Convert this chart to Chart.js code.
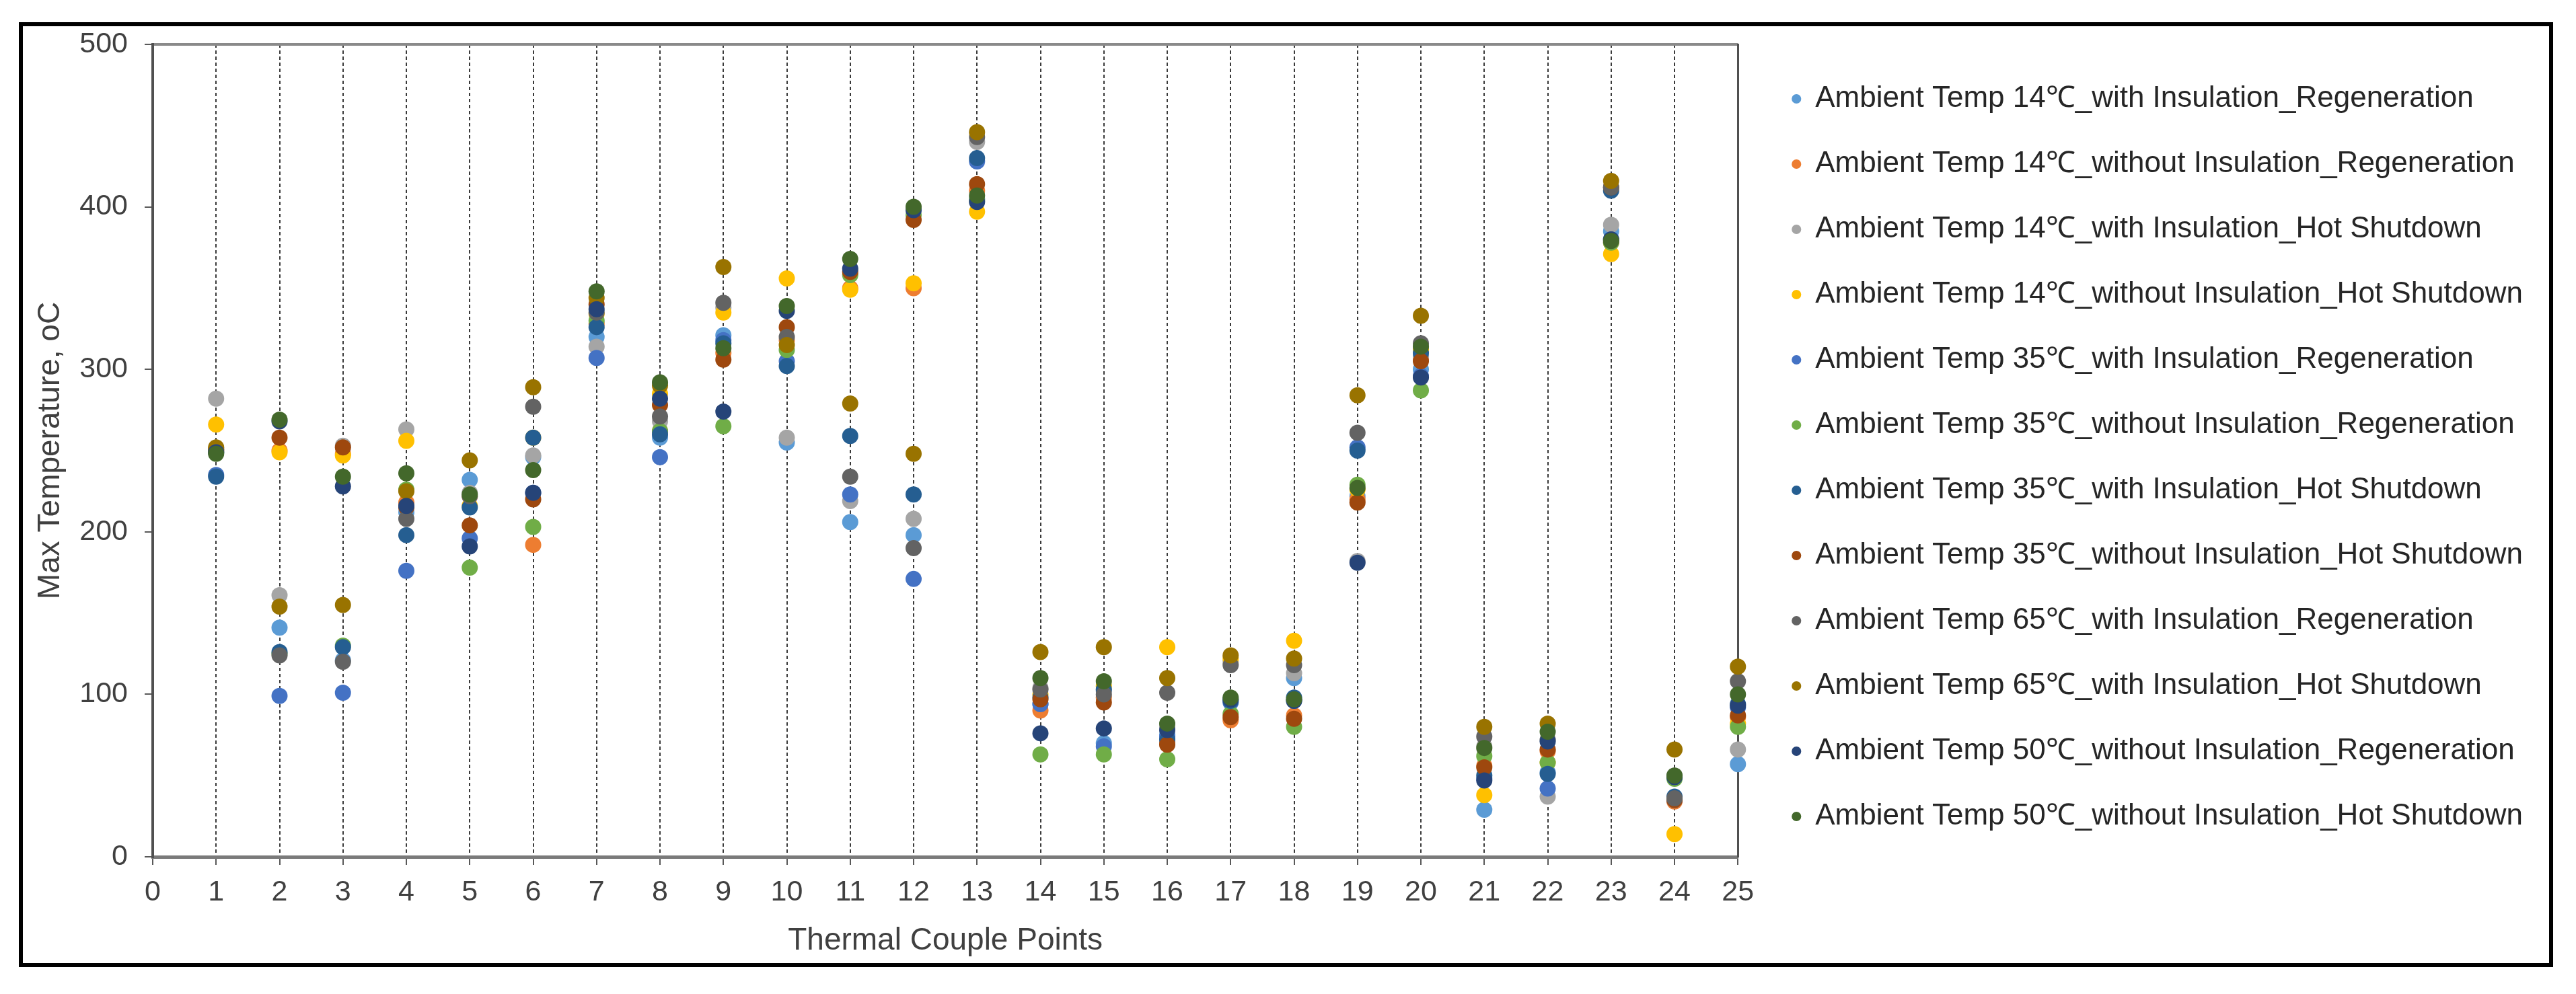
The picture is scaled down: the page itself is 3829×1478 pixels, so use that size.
<!DOCTYPE html>
<html>
<head>
<meta charset="utf-8">
<script src="https://cdn.jsdelivr.net/npm/chart.js@4.4.0/dist/chart.umd.min.js"></script>
<style>
  body { margin: 0; background: #fff; }
  #frame { position: absolute; left: 28px; top: 33px; width: 3767px; height: 1405px; border: 6px solid #000; box-sizing: border-box; }
  #myChart { position: absolute; left: 0; top: 0; }
</style>
</head>
<body>
<div id="frame"></div>
<canvas id="myChart" width="3829" height="1478"></canvas>
<script>
// thermal couple points (x) and y ticks
const points = [1,2,3,4,5,6,7,8,9,10,11,12,13,14,15,16,17,18,19,20,21,22,23,24,25];
const xTicks = [0, 25];
const yTicks = [0, 100, 200, 300, 400, 500];

const seriesNames = [
    "Ambient Temp 14\u2103_with Insulation_Regeneration",
    "Ambient Temp 14\u2103_without Insulation_Regeneration",
    "Ambient Temp 14\u2103_with Insulation_Hot Shutdown",
    "Ambient Temp 14\u2103_without Insulation_Hot Shutdown",
    "Ambient Temp 35\u2103_with Insulation_Regeneration",
    "Ambient Temp 35\u2103_without Insulation_Regeneration",
    "Ambient Temp 35\u2103_with Insulation_Hot Shutdown",
    "Ambient Temp 35\u2103_without Insulation_Hot Shutdown",
    "Ambient Temp 65\u2103_with Insulation_Regeneration",
    "Ambient Temp 65\u2103_with Insulation_Hot Shutdown",
    "Ambient Temp 50\u2103_without Insulation_Regeneration",
    "Ambient Temp 50\u2103_without Insulation_Hot Shutdown"
];
const seriesColors = ["#5B9BD5","#ED7D31","#A5A5A5","#FFC000","#4472C4","#70AD47",
                      "#255E91","#9E480E","#636363","#997300","#264478","#43682B"];

const t14wReg  = [249,141,121,212,232,246,320,258,321,255,206,198,405, 94, 70, 75, 97,110,222,300, 29, 52,385, 36, 57];
const t14woReg = [250,250,248,218,222,192,328,262,310,318,350,350,410, 90, 98, 70, 84, 87,220,306, 56, 65,378, 34, 86];
const t14wHS   = [282,161,253,263,224,247,314,268,338,258,219,208,440,104,102, 80,120,113,182,308, 68, 37,389, 50, 66];
const t14woHS  = [266,249,247,256,216,258,334,285,335,356,349,353,397,100,105,129,122,133,226,312, 38, 58,371, 14, 82];
const t35wReg  = [235, 99,101,176,196,224,307,246,318,305,223,171,428, 94, 68, 74, 95, 96,252,296, 48, 42,380, 35, 92];
const t35woReg = [249,125,130,226,178,203,330,262,265,312,358,395,404, 63, 63, 60, 88, 80,229,287, 62, 58,378, 48, 80];
const t35wHS   = [234,126,129,198,215,258,326,260,316,302,259,223,430, 98,103, 72, 96, 98,250,310, 50, 51,410, 37, 94];
const t35woHS  = [251,258,252,215,204,220,340,278,306,326,360,392,414, 97, 95, 69, 86, 85,218,305, 55, 66,412, 35, 87];
const t65wReg  = [250,124,120,208,222,277,335,271,341,320,234,190,443,103,100,101,118,118,261,316, 74, 72,412, 36,108];
const t65wHS   = [252,154,155,225,244,289,344,290,363,315,279,248,446,126,129,110,124,122,284,333, 80, 82,416, 66,117];
const t50woReg = [249,268,228,216,191,224,337,282,274,336,362,398,403, 76, 79, 78, 97, 96,181,295, 47, 71,380, 49, 93];
const t50woHS  = [248,269,234,236,223,238,348,292,313,339,368,400,407,110,108, 82, 98, 97,227,314, 67, 77,379, 50,100];

const allSeries = [t14wReg, t14woReg, t14wHS, t14woHS, t35wReg, t35woReg,
                   t35wHS, t35woHS, t65wReg, t65wHS, t50woReg, t50woHS];

const FONT = "Liberation Sans, Arial, sans-serif";
const legendSize = 44;
const legendPad = 53;
const legendBox = 12;

// measure the legend so the plot area lands where the original has it
const mctx = document.createElement("canvas").getContext("2d");
mctx.font = legendSize + "px " + FONT;
let textW = 0;
seriesNames.forEach(n => { textW = Math.max(textW, mctx.measureText(n).width); });
const legendLeft = 2611;
const legendW = Math.ceil(legendPad + legendBox + legendSize / 2 + textW + 10);
const padRight = Math.max(0, 3829 - legendLeft - legendW);

const datasets = allSeries.map((vals, i) => ({
    label: seriesNames[i],
    data: vals.map((v, j) => ({x: points[j], y: v})),
    backgroundColor: seriesColors[i],
    borderColor: seriesColors[i],
    borderWidth: 0,
    pointRadius: 12,
    pointHoverRadius: 12,
    pointStyle: "circle",
    clip: false,
    order: allSeries.length - i
}));

new Chart("myChart", {
    type: "scatter",
    data: { datasets: datasets },
    options: {
        responsive: false,
        animation: false,
        devicePixelRatio: 1,
        layout: { padding: { left: 40, top: 66, right: padRight, bottom: 44 } },
        plugins: {
            legend: {
                position: "right",
                align: "start",
                maxWidth: legendW + 2,
                title: { display: true, text: "", font: { size: 1, lineHeight: 1 }, padding: { top: 5, bottom: 0 } },
                labels: {
                    usePointStyle: true,
                    pointStyle: "circle",
                    boxWidth: legendBox,
                    boxHeight: 10,
                    padding: legendPad,
                    color: "#262626",
                    font: { family: FONT, size: legendSize },
                    sort: (a, b) => a.datasetIndex - b.datasetIndex
                }
            },
            tooltip: { enabled: false }
        },
        scales: {
            x: {
                type: "linear",
                min: xTicks[0],
                max: xTicks[1],
                afterFit: (s) => { s.height = 160; },
                ticks: { stepSize: 1, autoSkip: false, maxRotation: 0, padding: 15,
                         color: "#404040", font: { family: FONT, size: 43 } },
                grid: { color: "#3a3a3a", lineWidth: 2, tickLength: 12, tickColor: "#595959",
                        tickWidth: 2, tickBorderDash: [] },
                border: { display: true, color: "#7a7a7a", width: 5, dash: [5, 4] },
                title: { display: true, text: "Thermal Couple Points", color: "#404040",
                         font: { family: FONT, size: 46 }, padding: { top: 0, bottom: 7 } }
            },
            y: {
                type: "linear",
                position: "left",
                min: yTicks[0],
                max: yTicks[yTicks.length - 1],
                afterFit: (s) => { s.width = 187; },
                ticks: { stepSize: yTicks[1] - yTicks[0], padding: 25,
                         color: "#404040", font: { family: FONT, size: 43 } },
                grid: {
                    color: (c) => (c.tick && (c.tick.value === yTicks[0] || c.tick.value === yTicks[yTicks.length - 1])) ? "#8a8a8a" : "rgba(0,0,0,0)",
                    lineWidth: 4, tickLength: 12, tickColor: "#595959", tickWidth: 2
                },
                border: { display: true, color: "#505050", width: 4 },
                title: { display: true, text: "Max Temperature, oC", color: "#404040",
                         font: { family: FONT, size: 46 }, padding: { top: 8 } }
            },
            y2: {
                type: "linear",
                position: "right",
                min: yTicks[0],
                max: yTicks[yTicks.length - 1],
                afterFit: (s) => { s.width = legendLeft - 2583; },
                ticks: { display: false },
                grid: { display: false },
                border: { display: true, color: "#505050", width: 3 }
            }
        }
    }
});
</script>
</body>
</html>
